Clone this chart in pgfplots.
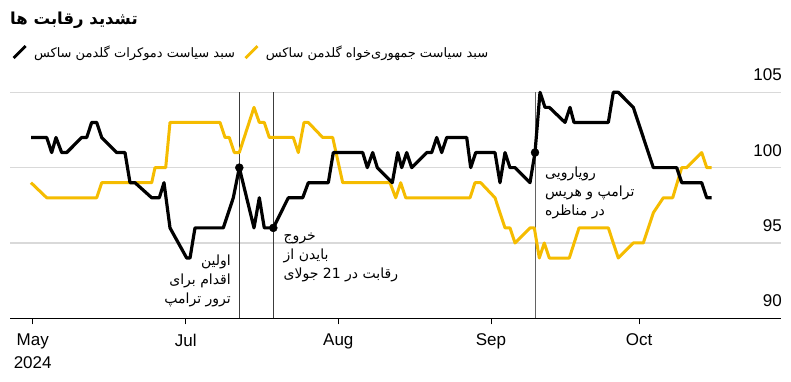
\documentclass[border=0pt]{standalone}
\usepackage{pgfplots}
\pgfplotsset{compat=1.18}
\usepackage{fontspec}
\setmainfont{Liberation Sans}
\newfontfamily\arabicfont[Script=Arabic]{DejaVu Sans}
\TeXXeTstate=1
\definecolor{ylw}{RGB}{245,188,0}
\definecolor{gridc}{RGB}{217,217,217}
\definecolor{vline}{RGB}{60,60,60}

\pgfplotstableread{
x y
31 102
46.7 102
51.7 101
56 102
61.7 101
66.7 101
81.7 102
86.7 102
91.7 103
96.7 103
101.7 102
116.7 101
125 101
130 99
135 99
151.7 98
159.3 98
164 99
170 96
186.7 94
190 94
195 96
223.3 96
233.3 98
239.3 100
254 96
259.3 98
264.3 96
273.3 96
288.3 98
302.7 98
308.3 99
328.3 99
333.3 101
362.7 101
367.3 100
372.7 101
377.3 100
392.3 99
397.7 101
401.7 100
406.7 101
411.7 100
426.7 101
431.7 101
436.7 102
441.7 101
446.7 102
466.7 102
470.7 100
475.7 101
495 101
500 99
505 101
510 100
515 100
530 99
535 101
540 105
545 104
549.3 104
565 103
570 104
574 103
608.3 103
613.3 105
618.3 105
633.3 104
653.3 100
676.7 100
681.7 99
701.7 99
706.7 98
711.7 98
}\dem

\pgfplotstableread{
x y
31 99
46.7 98
96.7 98
101.7 99
151.7 99
155 100
165.7 100
170 103
220 103
225 102
229.3 102
234.3 101
239.3 101
254 104
259.3 103
264.3 103
269.3 102
293.3 102
298.3 101
304 103
308.3 103
322.7 102
332.7 102
342.7 99
390 99
395.7 98
400.7 99
405.7 98
470 98
475 99
480.7 99
495 98
505 96
510 96
515 95
530 96
534.3 96
539.3 94
544.3 95
549.3 94
569.3 94
579 96
608.3 96
618.3 94
633.3 95
643.3 95
653.3 97
663.3 98
672.7 98
681.7 100
686.7 100
701.7 101
706.7 100
711.7 100
}\rep

\begin{document}
\begin{tikzpicture}
\useasboundingbox (0,0) rectangle (791pt,382pt);
\begin{axis}[
  at={(10pt,63.7pt)}, anchor=south west,
  scale only axis, width=771pt, height=226pt,
  xmin=10, xmax=781, ymin=90, ymax=105,
  axis x line*=bottom, axis y line*=right,
  x axis line style={line width=1pt, -},
  y axis line style={draw=none},
  xtick={32.7,185.7,338.3,491,639},
  xticklabels={May\\2024,Jul,Aug,Sep,Oct},
  xticklabel style={align=center, font=\fontsize{17}{23}\selectfont, yshift=-6pt},
  ytick={90,95,100,105},
  yticklabel style={anchor=south east, font=\fontsize{17}{20}\selectfont, inner sep=0pt, yshift=11pt, xshift=-5pt},
  ymajorgrids, grid style={gridc, line width=1.2pt},
  tick align=outside, major tick length=6pt,
  xtick style={line width=1pt, black},
  ytick style={draw=none},
  /pgf/number format/assume math mode=true,
  clip=false,
  legend image code/.code={\draw[#1, line width=2.8pt] (0pt,-6pt) -- (12pt,6pt);},
  legend style={at={(0.0026,1.178)}, anchor=west, draw=none, fill=none,
    legend columns=-1, inner sep=0pt,
    font=\arabicfont\fontsize{13}{16}\selectfont,
    /tikz/every odd column/.append style={column sep=5pt},
    /tikz/every even column/.append style={column sep=7pt}},
  legend cell align=left,
]
\addlegendimage{black}
\addlegendentry{\beginR سبد سیاست دموکرات گلدمن ساکس\endR}
\addlegendimage{ylw}
\addlegendentry{\beginR سبد سیاست جمهوری‌خواه گلدمن ساکس\endR}

\draw[vline, line width=0.9pt] (axis cs:239.3,90) -- (axis cs:239.3,105.05);
\draw[vline, line width=0.9pt] (axis cs:273.3,90) -- (axis cs:273.3,105.05);
\draw[vline!80, line width=0.9pt] (axis cs:535,90) -- (axis cs:535,105.05);

\addplot[forget plot, ylw, line width=3pt, line join=round] table[x=x,y=y] {\rep};
\addplot[forget plot, black, line width=3.2pt, line join=round] table[x=x,y=y] {\dem};
\addplot[forget plot, only marks, mark=*, mark size=4pt, black] coordinates {(239.3,100) (273.3,96) (535,101)};
\end{axis}

\node[anchor=west, inner sep=0pt, font=\arabicfont\bfseries\fontsize{16.5}{20}\selectfont] at (10pt,362pt) {\beginR تشدید رقابت ها\endR};

\node[anchor=north east, inner sep=0pt, align=right, font=\arabicfont\fontsize{14}{19}\selectfont] at (231pt,127pt)
  {\beginR اولین\endR\\\beginR اقدام برای\endR\\\beginR ترور ترامپ\endR};
\node[anchor=north west, inner sep=0pt, align=left, font=\arabicfont\fontsize{14}{19}\selectfont] at (283.5pt,149pt)
  {\beginR خروج\endR\\\beginR بایدن از\endR\\\beginR رقابت در \beginL21\endL{} جولای\endR};
\node[anchor=north west, inner sep=0pt, align=left, font=\arabicfont\fontsize{14}{19}\selectfont] at (545pt,215pt)
  {\beginR رویارویی\endR\\\beginR ترامپ و هریس\endR\\\beginR در مناظره\endR};
\end{tikzpicture}
\end{document}
